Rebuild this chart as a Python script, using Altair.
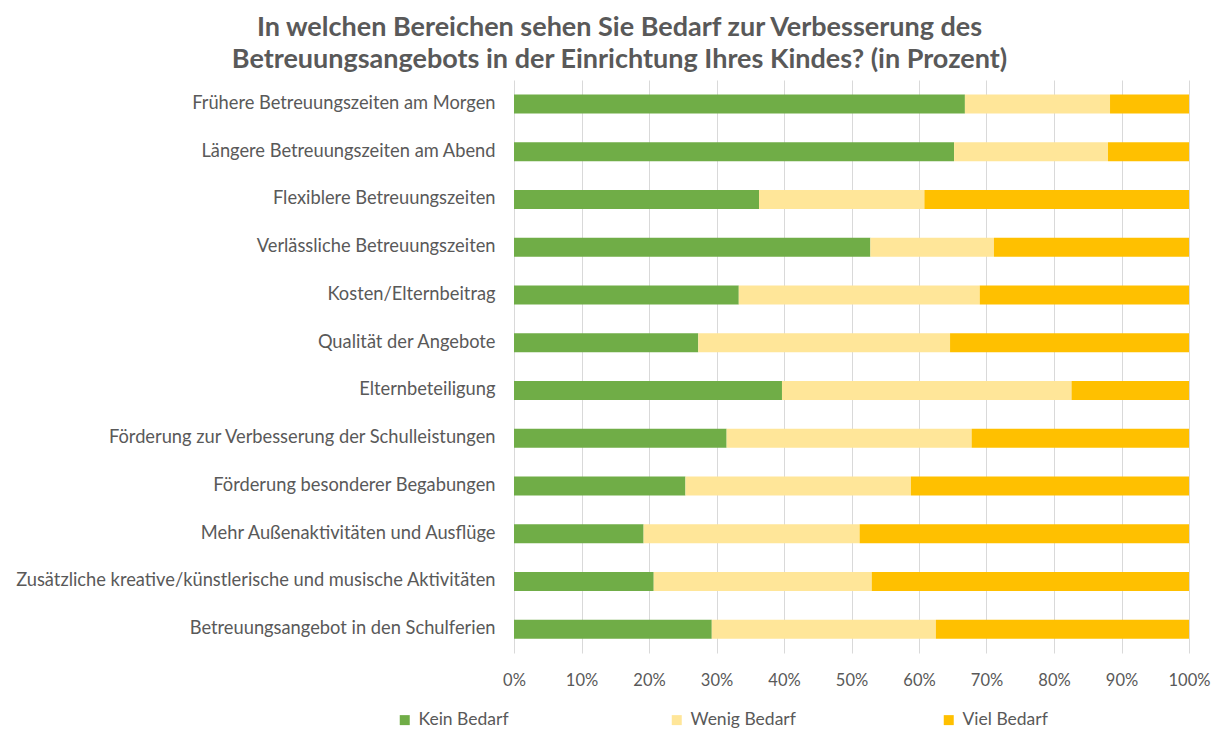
import altair as alt
import pandas as pd

categories = [
    "Frühere Betreuungszeiten am Morgen",
    "Längere Betreuungszeiten am Abend",
    "Flexiblere Betreuungszeiten",
    "Verlässliche Betreuungszeiten",
    "Kosten/Elternbeitrag",
    "Qualität der Angebote",
    "Elternbeteiligung",
    "Förderung zur Verbesserung der Schulleistungen",
    "Förderung besonderer Begabungen",
    "Mehr Außenaktivitäten und Ausflüge",
    "Zusätzliche kreative/künstlerische und musische Aktivitäten",
    "Betreuungsangebot in den Schulferien",
]
kein_bedarf = [66.8, 65.2, 36.3, 52.8, 33.3, 27.3, 39.7, 31.5, 25.4, 19.2, 20.7, 29.3]
wenig_bedarf = [21.5, 22.8, 24.5, 18.3, 35.7, 37.3, 42.9, 36.3, 33.4, 32.0, 32.3, 33.2]
viel_bedarf = [11.7, 12.0, 39.2, 28.9, 31.0, 35.4, 17.4, 32.2, 41.2, 48.8, 47.0, 37.5]
series = ["Kein Bedarf", "Wenig Bedarf", "Viel Bedarf"]
colors = ["#70AD47", "#FFE699", "#FFC000"]

rows = []
for i, c in enumerate(categories):
    for j, (s, vals) in enumerate(zip(series, [kein_bedarf, wenig_bedarf, viel_bedarf])):
        rows.append({"Bereich": c, "Bedarf": s, "Wert": vals[i], "ord": j})
df = pd.DataFrame(rows)

FONT = "Lato"
TXT = "#595959"

chart = alt.Chart(df).mark_bar(size=19).encode(
    y=alt.Y("Bereich:N", sort=categories, title=None,
            axis=alt.Axis(domain=False, ticks=False, labelPadding=19, labelFontSize=18.3,
                          labelColor=TXT, labelFont=FONT, labelLimit=600)),
    x=alt.X("Wert:Q", stack="normalize", title=None,
            scale=alt.Scale(domain=[0, 1], nice=False),
            axis=alt.Axis(format=".0%", values=[i / 10 for i in range(11)], domain=False,
                          ticks=False, labelPadding=19, labelFontSize=16.5, labelColor=TXT,
                          labelFont=FONT, labelFlush=False, gridColor="#D9D9D9", gridWidth=1)),
    color=alt.Color("Bedarf:N", sort=series,
                    scale=alt.Scale(domain=series, range=colors),
                    legend=alt.Legend(title=None, orient="none", direction="horizontal",
                                      columns=3, gridAlign="all", columnPadding=144,
                                      legendX=-118, legendY=631,
                                      symbolType="square", symbolSize=100, symbolStrokeWidth=0,
                                      labelFontSize=17.5, labelColor=TXT, labelFont=FONT,
                                      labelOffset=5)),
    order=alt.Order("ord:Q"),
).properties(
    width=675,
    height=573,
    autosize=alt.AutoSizeParams(type="none"),
    padding={"left": 506, "top": 72, "right": 22, "bottom": 76},
    title=alt.TitleParams(
        text=["In welchen Bereichen sehen Sie Bedarf zur Verbesserung des",
              "Betreuungsangebots in der Einrichtung Ihres Kindes? (in Prozent)"],
        font=FONT, fontSize=27, fontWeight="bold", color=TXT,
        anchor="middle", dx=-232, offset=6, lineHeight=32,
    ),
).configure_view(stroke=None).configure_axisY(grid=False)

chart.save("out.html", embed_options={"renderer": "svg", "actions": False})
